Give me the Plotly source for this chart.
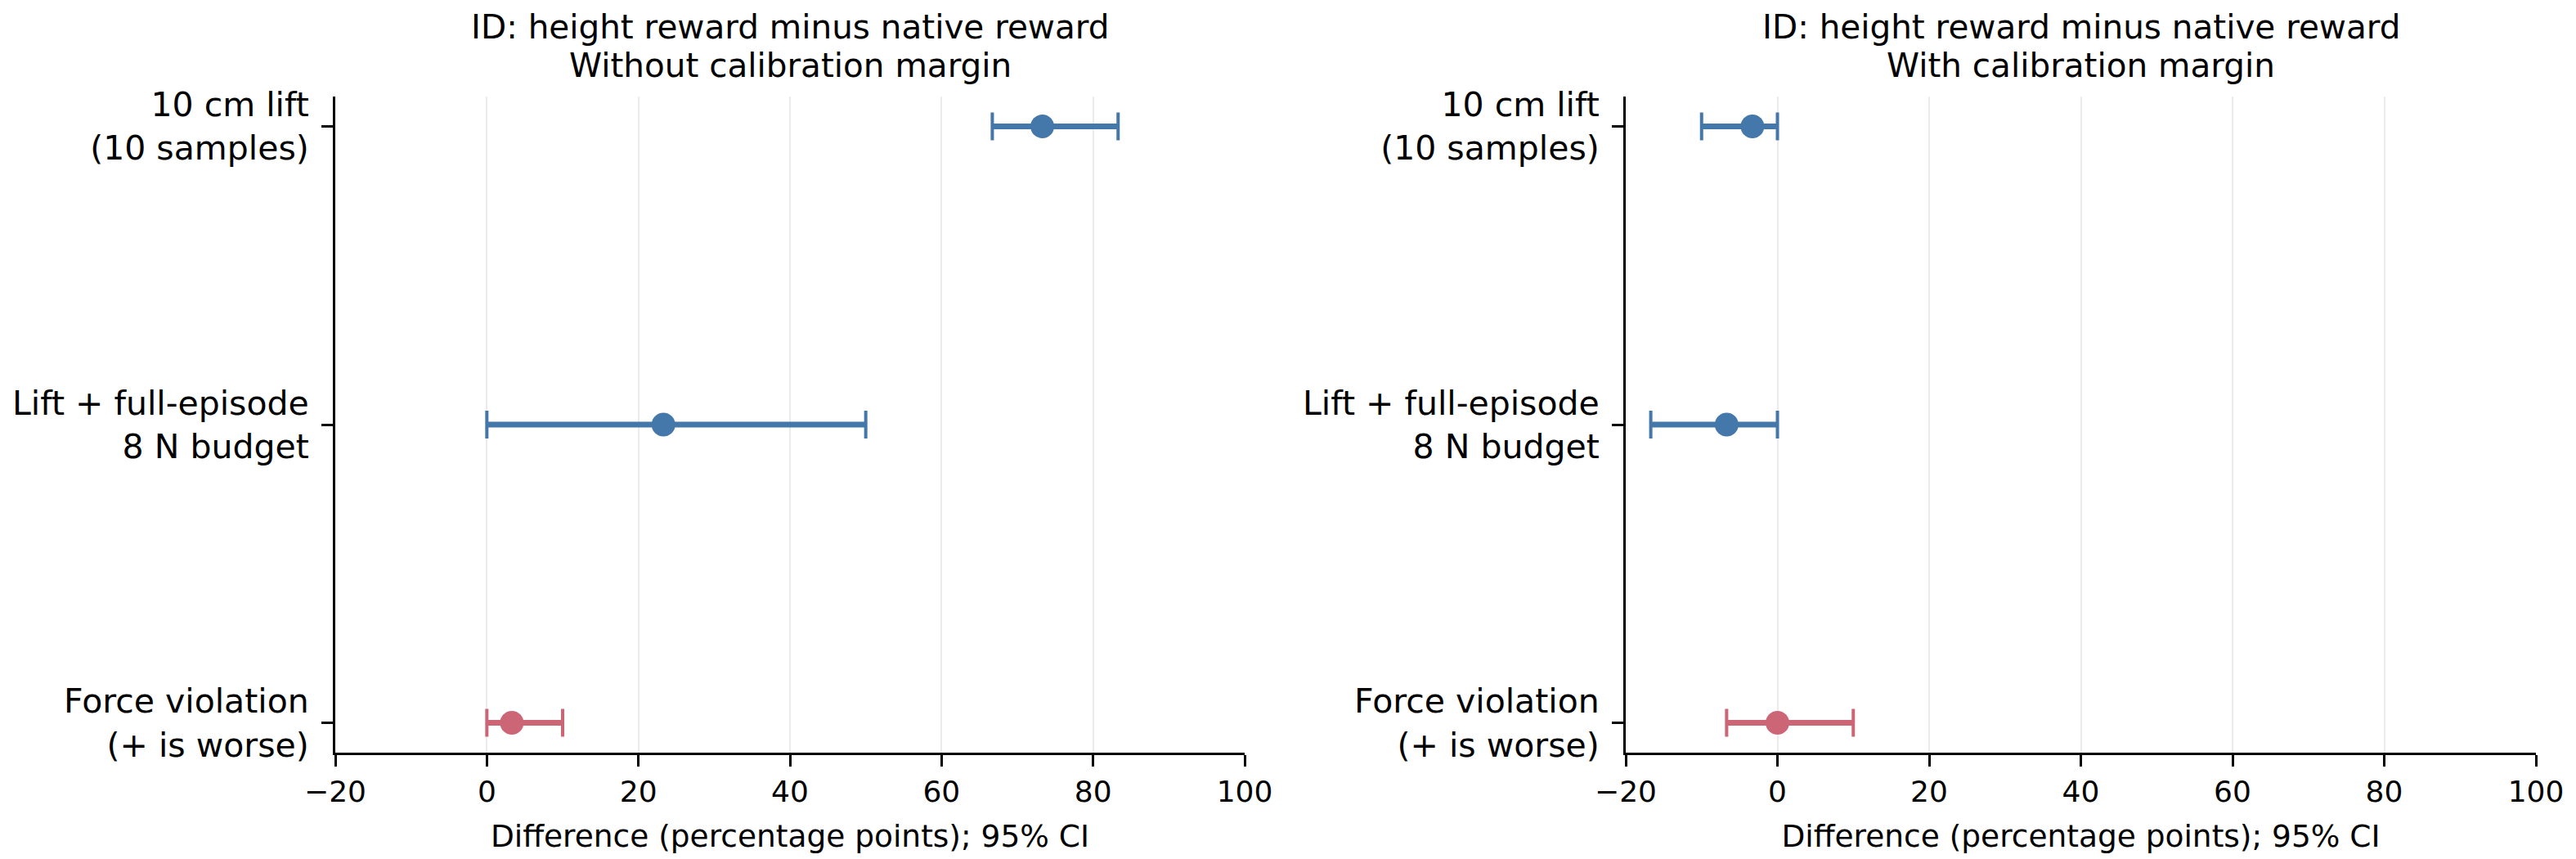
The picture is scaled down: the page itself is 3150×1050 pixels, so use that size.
'''Paired difference forest plots: height reward minus native reward'''
import plotly.graph_objects as go
from plotly.subplots import make_subplots

# category labels, top to bottom
categories = ["10 cm lift<br>(10 samples)", "Lift + full-episode<br>8 N budget", "Force violation<br>(+ is worse)"]
is_safety = [False, False, True]

# without calibration margin
diff_nomargin = [73.3, 23.3, 3.3]
lo_nomargin = [66.7, 0.0, 0.0]
hi_nomargin = [83.3, 50.0, 10.0]

# with calibration margin
diff_margin = [-3.3, -6.7, 0.0]
lo_margin = [-10.0, -16.7, -6.7]
hi_margin = [0.0, 0.0, 10.0]

title_line1 = "ID: height reward minus native reward"
title_line2 = ["Without calibration margin", "With calibration margin"]
xlabel = "Difference (percentage points); 95% CI"
xticks = [-20, 0, 20, 40, 60, 80, 100]

BLUE = "#4477AA"
RED = "#CC6677"
FONT = "DejaVu Sans"
W, H = 3150, 1050
OFF = 8  # page body margin in the browser

fig = make_subplots(rows=1, cols=2)

panels = [(diff_nomargin, lo_nomargin, hi_nomargin), (diff_margin, lo_margin, hi_margin)]
for col, (diff, lo, hi) in enumerate(panels, start=1):
    # dashed zero reference, below the marks
    fig.add_vline(x=0, line=dict(color="#555555", width=3, dash="11px,5px"),
                  layer="below", row=1, col=col)
    for i, cat in enumerate(categories):
        colour = RED if is_safety[i] else BLUE
        plus = [hi[i] - diff[i]]
        minus = [diff[i] - lo[i]]
        # thin caps
        fig.add_trace(go.Scatter(
            x=[diff[i]], y=[cat], mode="markers", marker=dict(size=1, opacity=0),
            error_x=dict(type="data", symmetric=False, array=plus, arrayminus=minus,
                         color=colour, thickness=4, width=17),
            showlegend=False, hoverinfo="skip"), row=1, col=col)
        # thicker bar + point
        fig.add_trace(go.Scatter(
            x=[diff[i]], y=[cat], mode="markers",
            marker=dict(size=29, color=colour),
            error_x=dict(type="data", symmetric=False, array=plus, arrayminus=minus,
                         color=colour, thickness=7, width=0),
            showlegend=False), row=1, col=col)

x_domains = [[(410 - OFF) / W, (1522 - OFF) / W], [(1988 - OFF) / W, (3101 - OFF) / W]]
y_domain = [1 - (920 - OFF) / H, 1 - (118 - OFF) / H]

for col in (1, 2):
    fig.update_xaxes(
        domain=x_domains[col - 1], range=[-20, 100], tickvals=xticks,
        automargin=False,
        showgrid=True, gridcolor="#ebebeb", gridwidth=2, zeroline=False,
        showline=True, linecolor="black", linewidth=3,
        ticks="outside", ticklen=14, tickwidth=3, tickcolor="black",
        tickfont=dict(size=36, color="black", family=FONT),
        title=dict(text=xlabel, font=dict(size=37.5, color="black", family=FONT), standoff=22),
        row=1, col=col)
    fig.update_yaxes(
        domain=y_domain, type="category", automargin=False,
        categoryorder="array", categoryarray=categories[::-1],
        range=[-0.1, 2.1], showgrid=False, zeroline=False,
        showline=True, linecolor="black", linewidth=3,
        ticks="outside", ticklen=14, tickwidth=3, tickcolor="black",
        ticklabelstandoff=7,
        tickfont=dict(size=41, color="black", family=FONT),
        row=1, col=col)
    xd = x_domains[col - 1]
    for text, ypix in ((title_line1, 33), (title_line2[col - 1], 80)):
        fig.add_annotation(
            text=text, xref="paper", yref="paper",
            x=(xd[0] + xd[1]) / 2, y=1 - (ypix - OFF) / H,
            xanchor="center", yanchor="middle", showarrow=False,
            font=dict(size=40.5, color="black", family=FONT))

fig.update_layout(
    width=W, height=H,
    margin=dict(l=0, r=0, t=0, b=0),
    paper_bgcolor="white", plot_bgcolor="white",
    font=dict(family=FONT, color="black"),
)

fig.write_html("out.html")
